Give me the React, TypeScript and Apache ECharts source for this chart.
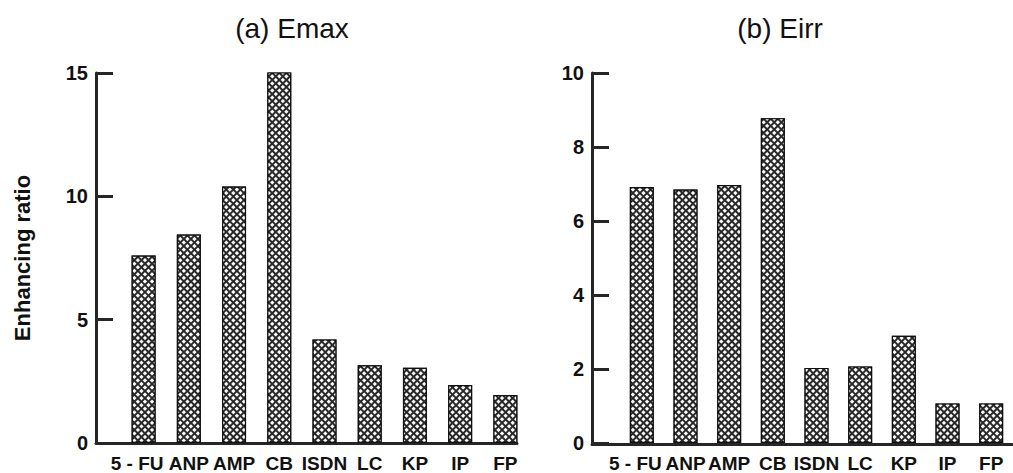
import React, { useEffect, useRef } from "react";
import * as echarts from "echarts";

const categories = ["5 - FU", "ANP", "AMP", "CB", "ISDN", "LC", "KP", "IP", "FP"];
const emaxValues = [7.6, 8.45, 10.4, 15.1, 4.2, 3.15, 3.05, 2.35, 1.95];
const eirrValues = [6.92, 6.85, 6.97, 8.78, 2.03, 2.07, 2.9, 1.07, 1.07];
const titles = ["(a) Emax", "(b) Eirr"];
const yAxisName = "Enhancing ratio";

const FONT = "'Liberation Sans', Arial, Helvetica, sans-serif";
const INK = "#262626";

const decal = {
  symbol: "rect",
  symbolSize: 1,
  color: "#ffffff",
  dashArrayX: [2.6, 1.2],
  dashArrayY: [2.6, 1.2],
  rotation: Math.PI / 4,
};

export default function App() {
  const ref = useRef<HTMLDivElement>(null);
  useEffect(() => {
    if (!ref.current) return;
    const chart = echarts.init(ref.current, undefined, { renderer: "svg" });
    const yAxisCommon = (min: number, max: number, interval: number, offset: number) => ({
      type: "value",
      min,
      max,
      interval,
      offset,
      axisLine: { show: true, lineStyle: { color: INK, width: 3 } },
      axisTick: { show: true, inside: true, length: 17, lineStyle: { color: INK, width: 3 } },
      axisLabel: { color: "#111", fontFamily: FONT, fontWeight: "bold", fontSize: 20, margin: 8 },
      splitLine: { show: false },
    });
    const catData = categories.map((c, i) =>
      i === 0 ? { value: c, textStyle: { padding: [0, 13, 0, 0] } } : c
    );
    const catAxis = (gridIndex: number) => ({
      type: "category",
      gridIndex,
      data: catData,
      axisLine: { show: false },
      axisTick: { show: false },
      axisLabel: { color: "#111", fontFamily: FONT, fontWeight: "bold", fontSize: 19, margin: 11, interval: 0 },
    });
    const lineAxis = (gridIndex: number) => ({
      type: "value",
      gridIndex,
      min: 0,
      max: 1,
      axisLine: { show: true, onZero: false, lineStyle: { color: INK, width: 3 } },
      axisTick: { show: false },
      axisLabel: { show: false },
      splitLine: { show: false },
    });
    const hiddenY = (gridIndex: number) => ({
      type: "value",
      gridIndex,
      show: false,
      min: 0,
      max: 1,
    });
    const barSeries = (idx: number, data: number[]) => ({
      type: "bar",
      xAxisIndex: idx,
      yAxisIndex: idx,
      data,
      barWidth: 24,
      itemStyle: { color: "#2a2a2a", borderColor: "#111", borderWidth: 1.2, decal },
      silent: true,
    });
    const titleStyle = { fontFamily: FONT, fontWeight: "normal", fontSize: 28, color: "#111" };
    chart.setOption({
      animation: false,
      backgroundColor: "#ffffff",
      title: [
        { text: titles[0], left: 287, top: 9, textAlign: "center", textStyle: titleStyle },
        { text: titles[1], left: 775, top: 9, textAlign: "center", textStyle: titleStyle },
      ],
      grid: [
        { left: 121, top: 73, width: 407, height: 370 },
        { left: 620, top: 73, width: 401, height: 371 },
        { left: 96, top: 73, width: 421, height: 370 },
        { left: 592, top: 73, width: 420, height: 371 },
      ],
      xAxis: [catAxis(0), catAxis(1), lineAxis(2), lineAxis(3)],
      yAxis: [
        {
          ...yAxisCommon(0, 15, 5, 25),
          gridIndex: 0,
          name: yAxisName,
          nameLocation: "middle",
          nameGap: 63,
          nameTextStyle: { fontFamily: FONT, fontWeight: "bold", fontSize: 22, color: "#111" },
        },
        { ...yAxisCommon(0, 10, 2, 28), gridIndex: 1 },
        hiddenY(2),
        hiddenY(3),
      ],
      series: [barSeries(0, emaxValues), barSeries(1, eirrValues)],
    });
    return () => chart.dispose();
  }, []);
  return (
    <div
      ref={ref}
      style={{ position: "fixed", left: 0, top: 0, width: 1013, height: 473, background: "#fff" }}
    />
  );
}
